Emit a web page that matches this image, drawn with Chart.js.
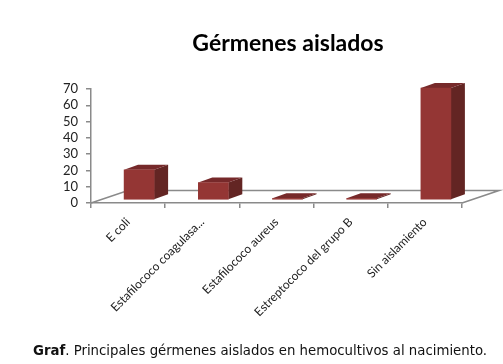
<!DOCTYPE html>
<html>
<head>
<meta charset="utf-8">
<style>
  html, body { margin:0; padding:0; background:#fff; }
  #wrap { position:relative; width:503px; height:364px; overflow:hidden; }
  #titulo { position:absolute; left:73px; width:430px; top:28px; text-align:center; font:bold 23px Lato, sans-serif; color:#000; }
  #pie { position:absolute; left:0; width:520px; top:343px; text-align:center; font:13.3px "DejaVu Sans", sans-serif; color:#111; white-space:nowrap; }
  canvas { position:absolute; left:0; top:0; }
</style>
<script src="https://cdn.jsdelivr.net/npm/chart.js@4"></script>
</head>
<body>
<div id="wrap">
  <canvas id="grafica" width="503" height="364"></canvas>
  <div id="titulo">Gérmenes aislados</div>
  <div id="pie"><b>Graf</b>. Principales gérmenes aislados en hemocultivos al nacimiento.</div>
</div>
<script>
var categorias = ["E coli", "Estafilococo coagulasa...", "Estafilococo aureus", "Estreptococo del grupo B", "Sin aislamiento"];
var valores = [18.5, 10.7, 1, 1, 68.7];
var marcasY = [0, 10, 20, 30, 40, 50, 60, 70];

// profundidad del efecto 3D
var fondoX = 14, fondoY = -5;
var sueloX = 37, sueloY = -12.5;
var gris = "#8a8a8a";

var efecto3d = {
  id: "efecto3d",
  beforeDatasetsDraw: function (chart) {
    var c = chart.ctx, a = chart.chartArea;
    // suelo
    c.save();
    c.strokeStyle = gris;
    c.lineWidth = 1.5;
    c.beginPath();
    c.moveTo(a.left, a.bottom);
    c.lineTo(a.left + sueloX, a.bottom + sueloY);
    c.lineTo(a.right + sueloX, a.bottom + sueloY);
    c.lineTo(a.right, a.bottom);
    c.stroke();
    c.restore();

    // barras desplazadas sobre el suelo
    c.save();
    c.translate(11, -3);
    chart.getDatasetMeta(0).data.forEach(function (b) {
      var izq = b.x - b.width / 2, der = b.x + b.width / 2;
      c.fillStyle = "#632523";
      c.beginPath();
      c.moveTo(der, b.y);
      c.lineTo(der + fondoX, b.y + fondoY);
      c.lineTo(der + fondoX, b.base + fondoY);
      c.lineTo(der, b.base);
      c.closePath();
      c.fill();
      c.fillStyle = "#76292a";
      c.beginPath();
      c.moveTo(izq, b.y);
      c.lineTo(izq + fondoX, b.y + fondoY);
      c.lineTo(der + fondoX, b.y + fondoY);
      c.lineTo(der, b.y);
      c.closePath();
      c.fill();
    });
  },
  afterDatasetsDraw: function (chart) {
    chart.ctx.restore();
  }
};

new Chart(document.getElementById("grafica"), {
  type: "bar",
  plugins: [efecto3d],
  data: {
    labels: categorias,
    datasets: [{
      data: valores,
      backgroundColor: "#943634",
      barThickness: 30,
      clip: false
    }]
  },
  options: {
    responsive: false,
    animation: false,
    layout: { padding: { top: 89, right: 41, left: 0, bottom: 0 } },
    plugins: { legend: { display: false }, tooltip: { enabled: false } },
    scales: {
      x: {
        afterFit: function (s) { s.height = 161; },
        border: { color: gris, width: 1.5 },
        grid: { drawOnChartArea: false, color: gris, lineWidth: 1.5, tickLength: 5 },
        ticks: {
          minRotation: 45, maxRotation: 45, autoSkip: false,
          padding: 7, color: "#222",
          font: { family: "Lato", size: 12 }
        }
      },
      y: {
        min: 0, max: 70,
        afterFit: function (s) { s.width = 91; },
        afterBuildTicks: function (s) { s.ticks = marcasY.map(function (v) { return { value: v }; }); },
        border: { color: gris, width: 1.5 },
        grid: { drawOnChartArea: false, color: gris, lineWidth: 1.5, tickLength: 5 },
        ticks: { autoSkip: false, padding: 8, color: "#222", font: { family: "Lato", size: 13 } }
      }
    }
  }
});
</script>
</body>
</html>
